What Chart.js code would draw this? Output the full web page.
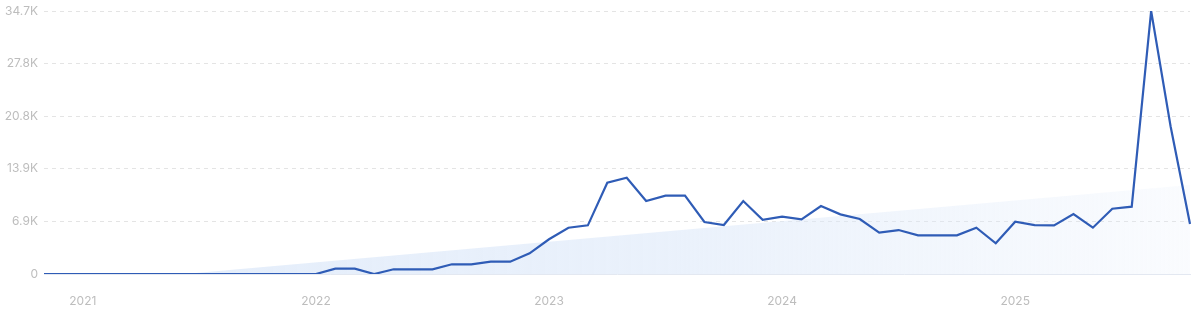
<!DOCTYPE html>
<html>
<head>
<meta charset="utf-8">
<script src="https://cdn.jsdelivr.net/npm/chart.js@4"></script>
<style>
  html, body { margin: 0; padding: 0; background: #fff; }
  #wrap { width: 1200px; height: 309px; position: relative; }
</style>
</head>
<body>
<div id="wrap"><canvas id="grafico"></canvas></div>
<script>
// meses (nov 2020 - out 2025)
var meses = [
  '2020-11', '2020-12',
  '2021-01', '2021-02', '2021-03', '2021-04', '2021-05', '2021-06', '2021-07', '2021-08', '2021-09', '2021-10', '2021-11', '2021-12',
  '2022-01', '2022-02', '2022-03', '2022-04', '2022-05', '2022-06', '2022-07', '2022-08', '2022-09', '2022-10', '2022-11', '2022-12',
  '2023-01', '2023-02', '2023-03', '2023-04', '2023-05', '2023-06', '2023-07', '2023-08', '2023-09', '2023-10', '2023-11', '2023-12',
  '2024-01', '2024-02', '2024-03', '2024-04', '2024-05', '2024-06', '2024-07', '2024-08', '2024-09', '2024-10', '2024-11', '2024-12',
  '2025-01', '2025-02', '2025-03', '2025-04', '2025-05', '2025-06', '2025-07', '2025-08', '2025-09', '2025-10'
];

var valores = [
  0, 0,
  0, 0, 0, 0, 0, 0, 0, 0, 0, 0, 0, 0,
  0, 700, 700, 0, 620, 620, 620, 1280, 1280, 1620, 1620, 2730,
  4580, 6110, 6420, 12040, 12700, 9630, 10330, 10330, 6860, 6460, 9630, 7160,
  7560, 7200, 8970, 7870, 7250, 5450, 5800, 5100, 5100, 5100, 6110, 4050,
  6900, 6460, 6420, 7910, 6110, 8610, 8880, 34700, 19500, 6600
];

// linha de tendencia: so os dois extremos, o resto fica vazio
var tendencia = [-1640];
for (var i = 1; i < meses.length - 1; i++) tendencia.push(null);
tendencia.push(11740);

var ticksY = [0, 6940, 13880, 20820, 27760, 34700];

function formatarK(v) {
  if (v === 0) return '0';
  return (v / 1000).toFixed(1) + 'K';
}

const ctx = document.getElementById('grafico');

const myChart = new Chart(ctx, {
  type: 'line',
  data: {
    labels: meses,
    datasets: [{
      label: 'Valores',
      data: valores,
      borderColor: '#2f5cb6',
      borderWidth: 2.2,
      pointRadius: 0,
      tension: 0,
      fill: false
    }, {
      label: 'Tendencia',
      data: tendencia,
      spanGaps: true,
      borderWidth: 0,
      borderColor: 'rgba(0,0,0,0)',
      pointRadius: 0,
      fill: 'origin',
      backgroundColor: function (c) {
        var area = c.chart.chartArea;
        if (!area) return 'rgba(220,232,250,0.6)';
        var g = c.chart.ctx.createLinearGradient(area.left, 0, area.right, 0);
        g.addColorStop(0, 'rgba(220,232,249,0.8)');
        g.addColorStop(0.55, 'rgba(220,232,249,0.6)');
        g.addColorStop(1, 'rgba(220,232,249,0.15)');
        return g;
      }
    }]
  },
  options: {
    responsive: true,
    maintainAspectRatio: false,
    animation: false,
    layout: { padding: { top: 11, right: 10, left: 0, bottom: 0 } },
    plugins: {
      legend: { display: false },
      tooltip: { enabled: false }
    },
    scales: {
      x: {
        grid: { display: false, drawTicks: false },
        border: { display: true, color: '#e3e8f1', width: 1 },
        ticks: {
          autoSkip: false,
          maxRotation: 0,
          padding: 20,
          color: '#bdbdbd',
          font: { family: 'Inter', size: 12 },
          callback: function (v, i) {
            var m = meses[i];
            return m.slice(5) === '01' ? m.slice(0, 4) : '';
          }
        },
        afterFit: function (s) {
          s.height = 35;
          s.paddingLeft = 0;
          s.paddingRight = 0;
        }
      },
      y: {
        min: 0,
        max: 34700,
        afterBuildTicks: function (s) {
          s.ticks = ticksY.map(function (v) { return { value: v }; });
        },
        grid: { color: '#e4e4e4', drawTicks: false },
        border: { display: false, dash: [4, 4] },
        ticks: {
          padding: 6,
          color: '#bdbdbd',
          font: { family: 'Inter', size: 12 },
          callback: function (v) { return formatarK(v); }
        },
        afterFit: function (s) {
          s.width = 44;
          s.paddingTop = 0;
          s.paddingBottom = 0;
        }
      }
    }
  }
});
</script>
</body>
</html>
